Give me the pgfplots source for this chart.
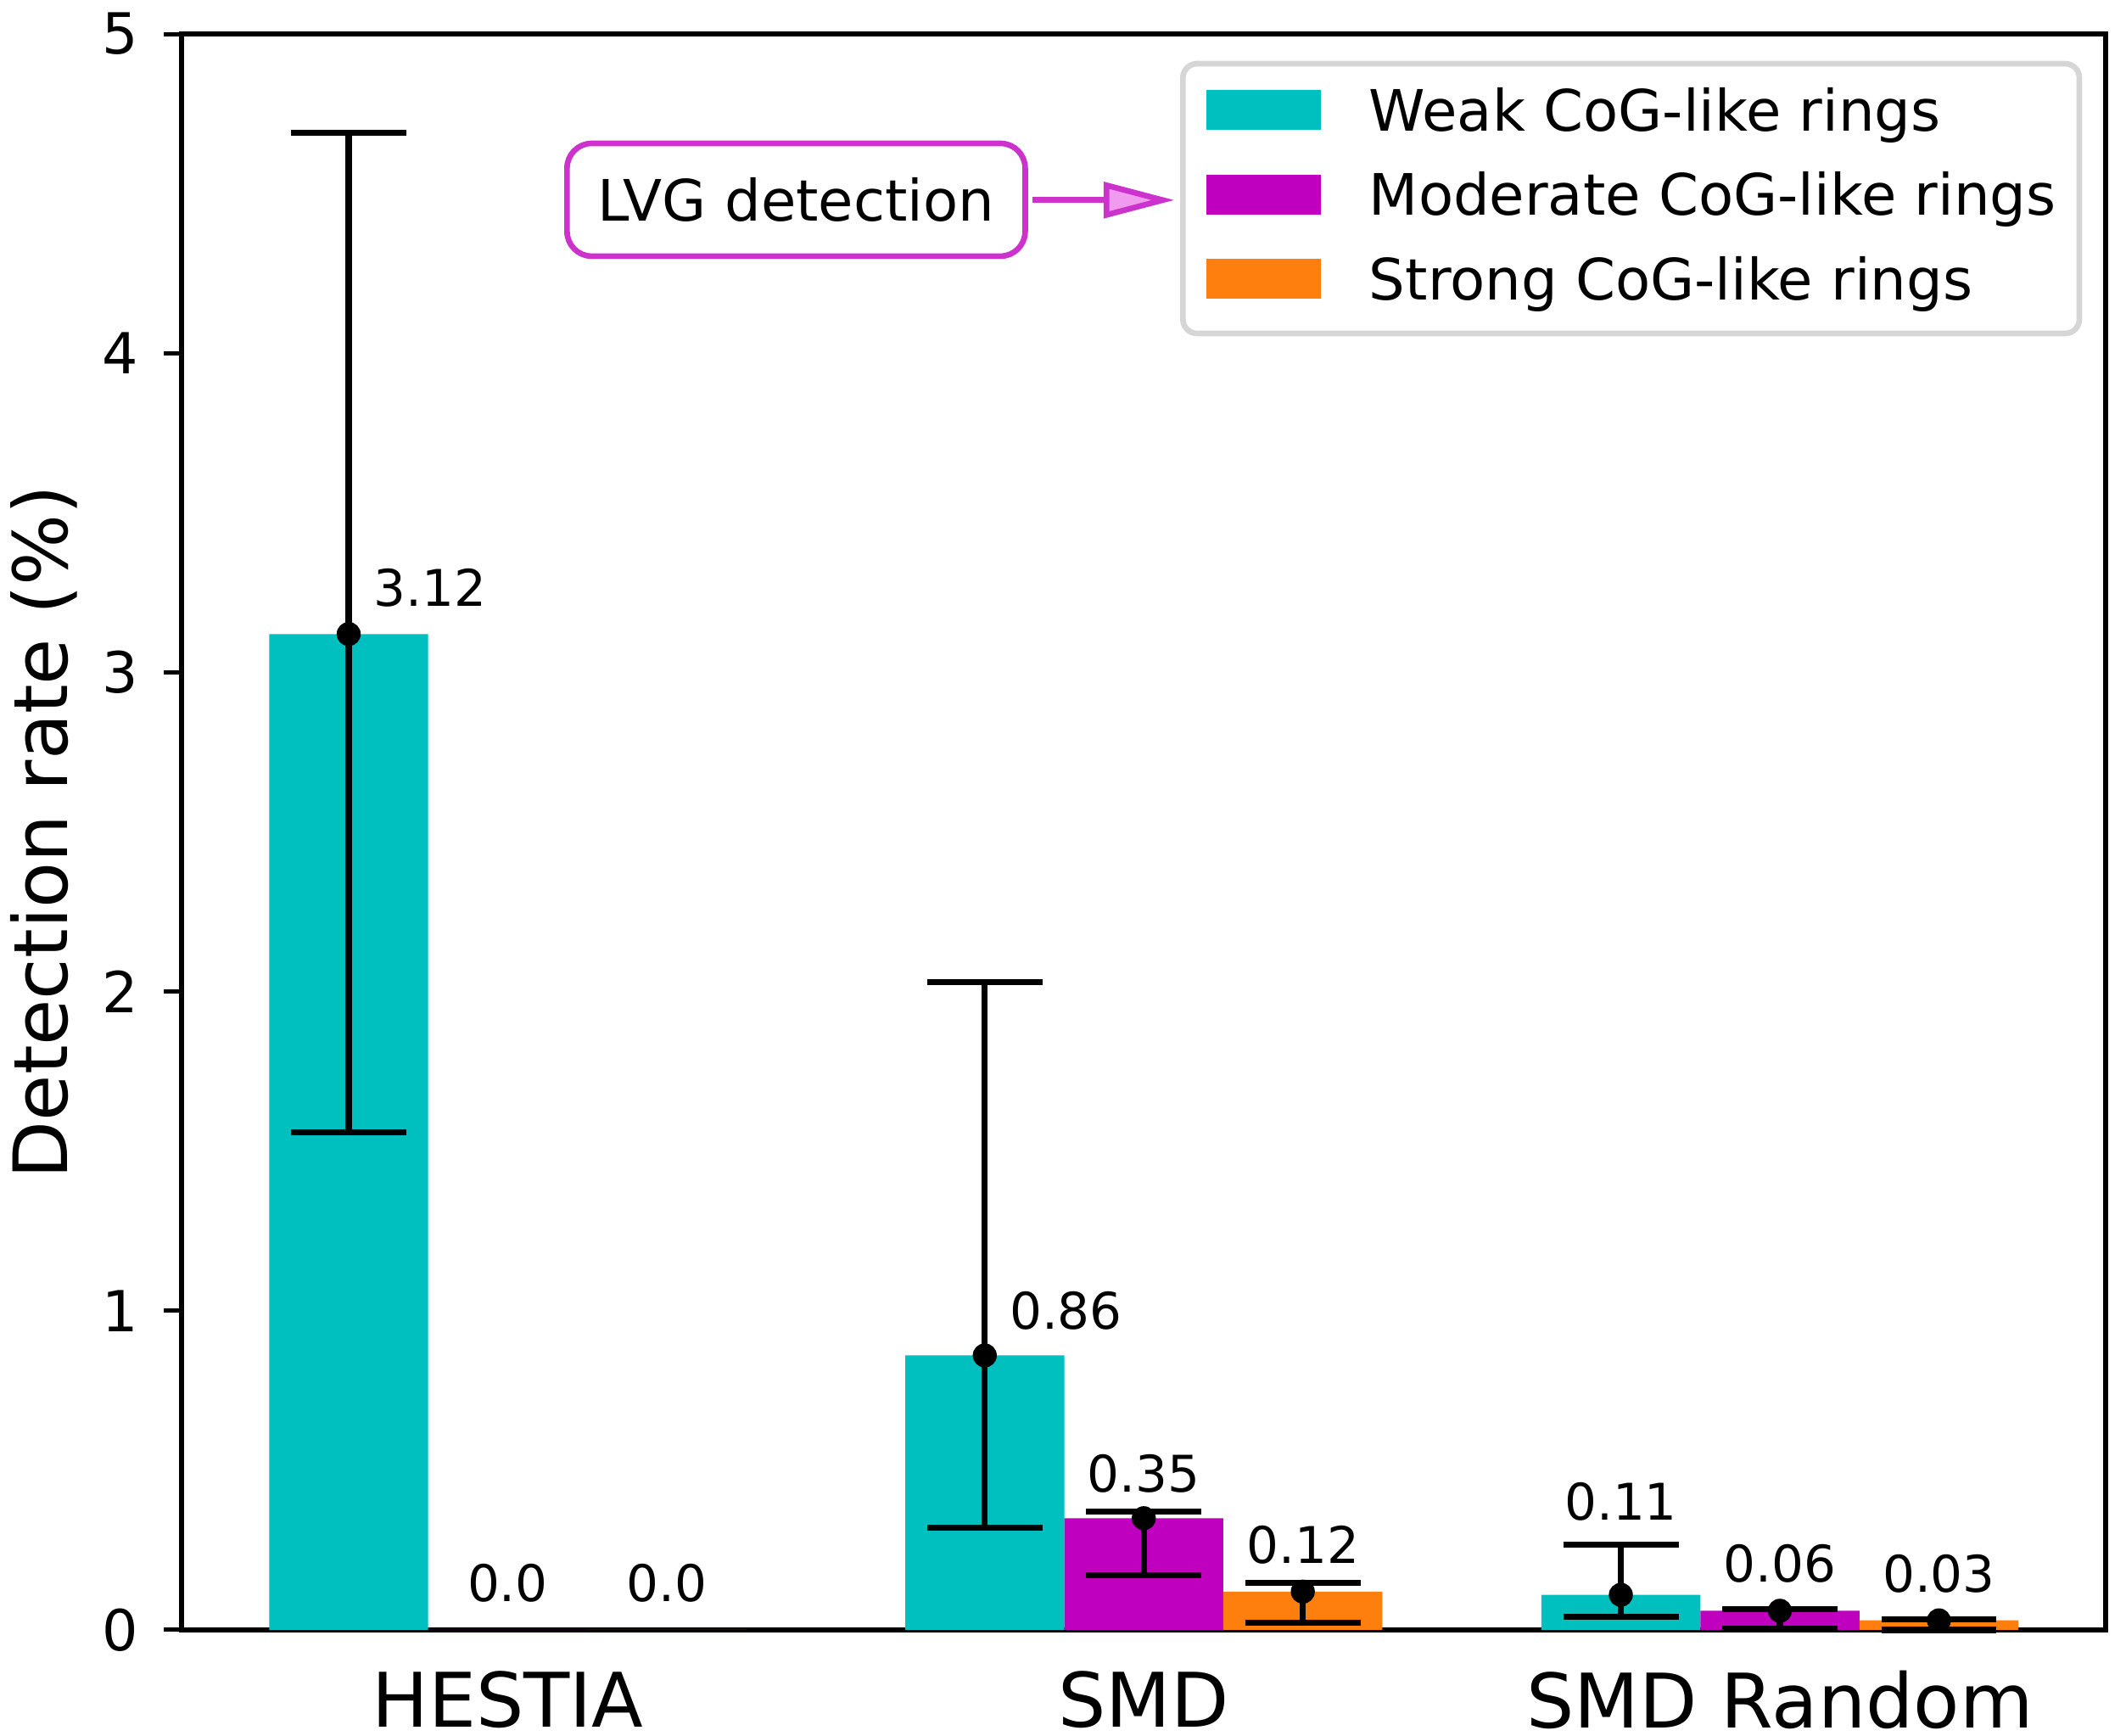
\documentclass[border=0pt]{standalone}
\usepackage{pgfplots}
\pgfplotsset{compat=1.18}
\usepackage{fontspec}
\setmainfont{DejaVu Sans}
\usetikzlibrary{arrows.meta}

\definecolor{weakc}{RGB}{0,191,191}
\definecolor{modc}{RGB}{191,0,191}
\definecolor{strongc}{RGB}{255,127,14}
\definecolor{annotc}{RGB}{204,51,204}
\definecolor{annotfill}{RGB}{240,155,240}
\definecolor{legframe}{RGB}{214,214,214}

\newcommand{\tickfont}{\fontsize{16pt}{19pt}\selectfont}
\newcommand{\catfont}{\fontsize{21.3pt}{25pt}\selectfont}
\newcommand{\labfont}{\fontsize{21.2pt}{25pt}\selectfont}
\newcommand{\legfont}{\fontsize{16.15pt}{19pt}\selectfont}
\newcommand{\valfont}{\fontsize{14.3pt}{17pt}\selectfont}

\begin{document}
\begin{tikzpicture}
\path[use as bounding box] (-51.4pt,-29.8pt) rectangle (550pt,461pt);
\begin{axis}[
  at={(0pt,0pt)}, anchor=south west,
  width=544.3pt, height=451.4pt, scale only axis,
  xmin=-0.5125, xmax=2.5125, ymin=0, ymax=5,
  clip=false,
  axis line style={line width=1.44pt},
  xtick={0,1,2},
  xticklabels={HESTIA, SMD, SMD Random},
  xtick style={draw=none},
  ytick={0,1,2,3,4,5},
  ytick pos=left,
  ytick style={line width=1.2pt, black},
  tick align=outside,
  major tick length=5.2pt,
  xticklabel style={font=\catfont, anchor=center, inner sep=0pt, yshift=-14.6pt},
  yticklabel style={font=\tickfont, inner sep=0pt, xshift=-7pt},
  /pgf/number format/assume math mode=true,
  ylabel={Detection rate (\%)},
  every axis y label/.style={at={(axis description cs:-0.0717,0.5)}, rotate=90, anchor=center, font=\labfont},
  legend style={at={(0.98622,0.98139)}, anchor=north east, outer sep=0pt,
    draw=legframe, line width=1.6pt, rounded corners=4pt, fill=white,
    inner xsep=6.6pt, inner ysep=4.42pt, row sep=4.24pt, column sep=13.6pt,
    font=\legfont, nodes={inner sep=0pt, text height=14.57pt, text depth=5.09pt}},
  legend cell align=left,
  legend image code/.code={\fill[#1, sharp corners] (0pt,-4.525pt) rectangle (32.5pt,6.825pt);},
]
% bars: three ring strengths, side by side in each sample
\addplot[ybar, bar width=0.25, bar shift=0pt, fill=weakc, draw=none]
  coordinates {(-0.25,3.12) (0.75,0.86) (1.75,0.11)};
\addlegendentry{Weak CoG-like rings}
\addplot[ybar, bar width=0.25, bar shift=0pt, fill=modc, draw=none]
  coordinates {(0,0) (1,0.35) (2,0.06)};
\addlegendentry{Moderate CoG-like rings}
\addplot[ybar, bar width=0.25, bar shift=0pt, fill=strongc, draw=none]
  coordinates {(0.25,0) (1.25,0.12) (2.25,0.03)};
\addlegendentry{Strong CoG-like rings}

% asymmetric uncertainties with the measured rate as a dot
\addplot[only marks, mark=*, mark size=3.2pt, black, forget plot,
  error bars/.cd, y dir=both, y explicit,
  error bar style={line width=1.7pt, black},
  error mark options={rotate=90, mark size=16.3pt, line width=1.7pt, black}]
  coordinates {
    (-0.25,3.12) += (0,1.57) -= (0,1.56)
    (0.75,0.86) += (0,1.17) -= (0,0.54)
    (1,0.35) += (0,0.02) -= (0,0.178)
    (1.25,0.12) += (0,0.027) -= (0,0.097)
    (1.75,0.11) += (0,0.157) -= (0,0.069)
    (2,0.06) += (0,0.005) -= (0,0.057)
    (2.25,0.03) += (0,0.003) -= (0,0.03)
  };

% value labels
\begin{scope}[every node/.style={font=\valfont, inner sep=0pt}]
\node[anchor=west] at (axis cs:-0.212,3.265) {3.12};
\node[anchor=west] at (axis cs:0.788,1.0) {0.86};
\node at (axis cs:0,0.147) {0.0};
\node at (axis cs:0.25,0.147) {0.0};
\node at (axis cs:1,0.49) {0.35};
\node at (axis cs:1.25,0.267) {0.12};
\node at (axis cs:1.75,0.402) {0.11};
\node at (axis cs:2,0.208) {0.06};
\node at (axis cs:2.25,0.175) {0.03};
\end{scope}

% annotation pointing to the legend
\node[draw=annotc, line width=1.6pt, rounded corners=7pt, fill=white,
  minimum width=129.6pt, minimum height=31.9pt, inner sep=0pt, font=\legfont]
  at (rel axis cs:0.3193,0.8961) {LVG detection};
\draw[annotc, line width=1.6pt, -{Triangle[length=20pt, width=10pt, fill=annotfill]}]
  (rel axis cs:0.4422,0.8959) -- (rel axis cs:0.5159,0.8959);
\end{axis}
\end{tikzpicture}
\end{document}
